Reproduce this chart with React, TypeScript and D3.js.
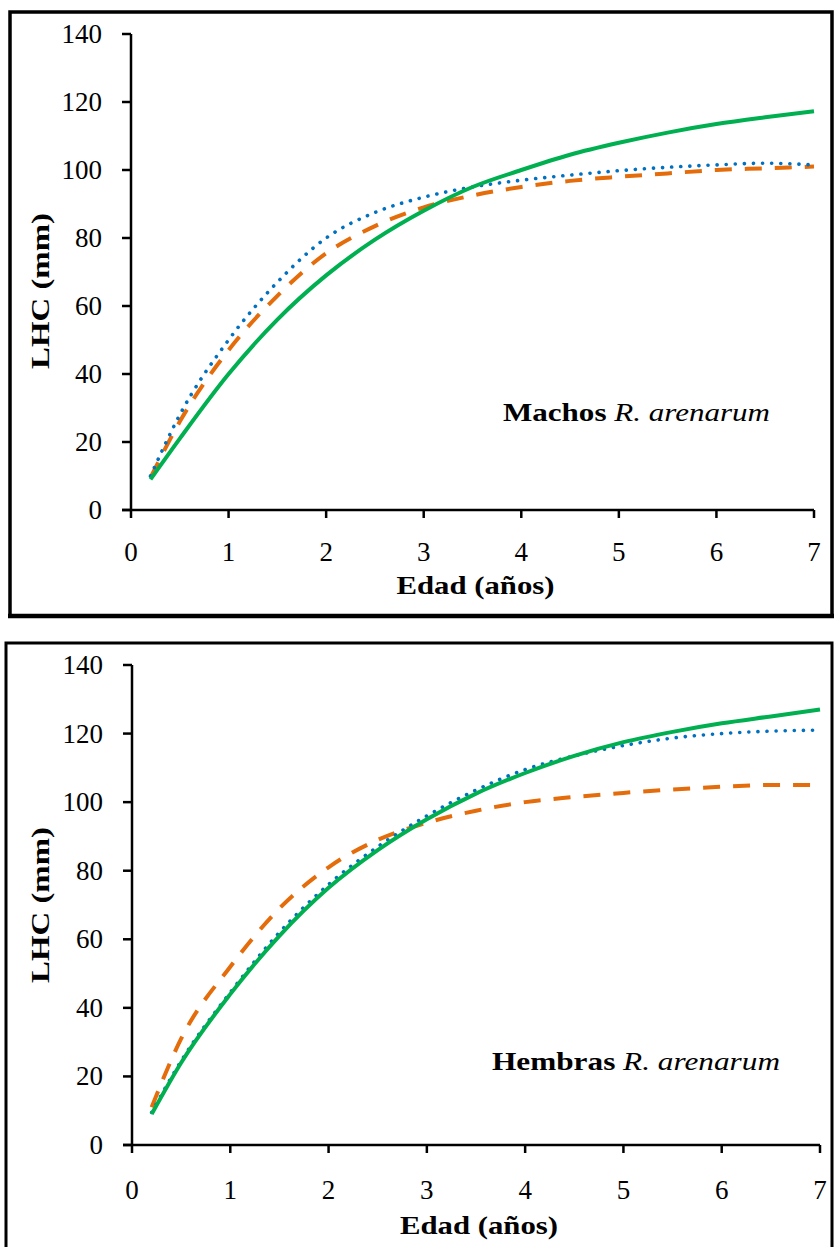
import React from "react";
import * as d3 from "d3";

const ages = [0.2, 0.5, 1, 1.5, 2, 2.5, 3, 3.5, 4, 4.5, 5, 5.5, 6, 6.5, 7];

const machosGreen = [9, 21, 40, 56, 69, 79.5, 88, 95, 100, 104.5, 108, 111, 113.5, 115.5, 117.3];
const machosBlue = [10, 28, 50, 67, 80, 87.5, 92, 95, 97, 98.5, 99.8, 100.8, 101.5, 102, 101.5];
const machosOrange = [9.5, 26, 47, 63, 75.5, 83.5, 89, 92.5, 95, 96.8, 98, 99, 100, 100.5, 101];

const hembrasGreen = [9, 24, 44, 61, 75, 86, 95, 102.5, 108.5, 113.5, 117.5, 120.5, 123, 125, 127];
const hembrasBlue = [9.5, 24.5, 44.5, 62, 76, 87, 96, 103.5, 109.5, 113.5, 116.5, 118.7, 120, 120.7, 121];
const hembrasOrange = [11, 31, 52, 69, 81, 89, 94, 97.5, 100, 101.5, 102.7, 103.7, 104.5, 105, 105];

const xTicks = [0, 1, 2, 3, 4, 5, 6, 7];
const yTicks = [0, 20, 40, 60, 80, 100, 120, 140];

const GREEN = "#00B050";
const BLUE = "#0070C0";
const ORANGE = "#E46C0A";
const FONT = "Liberation Serif, Times New Roman, Times, serif";

type PanelProps = {
  x0: number; x1: number; y0: number; y1: number;
  green: number[]; blue: number[]; orange: number[];
  bold: string; legendX: number; legendY: number; legendW: number;
  xLabelY: number; xTitleY: number; yTitleY: number;
};

function Panel(p: PanelProps) {
  const x = d3.scaleLinear().domain([0, 7]).range([p.x0, p.x1]);
  const y = d3.scaleLinear().domain([0, 140]).range([p.y0, p.y1]);
  const line = d3
    .line<number>()
    .x((_, i) => x(ages[i]))
    .y((d) => y(d))
    .curve(d3.curveMonotoneX);
  const tf = { fontFamily: FONT };
  return (
    <g>
      <path d={line(p.orange) || ""} fill="none" stroke={ORANGE} strokeWidth={4} strokeDasharray="17 13" />
      <path d={line(p.blue) || ""} fill="none" stroke={BLUE} strokeWidth={3.6} strokeDasharray="0.1 9" strokeLinecap="round" />
      <path d={line(p.green) || ""} fill="none" stroke={GREEN} strokeWidth={4} />
      <line x1={p.x0} x2={p.x0} y1={y(140)} y2={y(0)} stroke="#000" strokeWidth={2.5} />
      <line x1={p.x0 - 9} x2={x(7)} y1={y(0)} y2={y(0)} stroke="#000" strokeWidth={2.5} />
      {yTicks.map((t) => (
        <g key={"y" + t}>
          <line x1={p.x0 - 9} x2={p.x0} y1={y(t)} y2={y(t)} stroke="#000" strokeWidth={2.5} />
          <text x={p.x0 - 29} y={y(t) + 9} textAnchor="end" fontSize={27} style={tf}>{t}</text>
        </g>
      ))}
      {xTicks.map((t) => (
        <g key={"x" + t}>
          <line x1={x(t)} x2={x(t)} y1={y(0)} y2={y(0) + 8} stroke="#000" strokeWidth={2.5} />
          <text x={x(t)} y={p.xLabelY} textAnchor="middle" fontSize={27} style={tf}>{t}</text>
        </g>
      ))}
      <text x={(p.x0 + p.x1) / 2 + 3} y={p.xTitleY} textAnchor="middle" fontSize={25} fontWeight="bold" style={tf} textLength={158} lengthAdjust="spacingAndGlyphs">Edad (años)</text>
      <text transform={`translate(49,${p.yTitleY}) rotate(-90)`} textAnchor="middle" fontSize={25} fontWeight="bold" style={tf} textLength={156} lengthAdjust="spacingAndGlyphs">LHC (mm)</text>
      <text x={p.legendX} y={p.legendY} fontSize={25} style={tf} textLength={p.legendW} lengthAdjust="spacingAndGlyphs">
        <tspan fontWeight="bold">{p.bold}</tspan>
        <tspan fontStyle="italic"> R. arenarum</tspan>
      </text>
    </g>
  );
}

export default function App() {
  return (
    <svg width={834} height={1247} style={{ position: "absolute", left: 0, top: 0, background: "#fff" }}>
      <rect x={0} y={0} width={834} height={1247} fill="#fff" />
      <rect x={10} y={12} width={822} height={604} fill="none" stroke="#000" strokeWidth={3.5} />
      <line x1={8} x2={834} y1={616} y2={616} stroke="#000" strokeWidth={4.5} />
      <rect x={6} y={643} width={826} height={640} fill="none" stroke="#000" strokeWidth={3} />
      <Panel
        x0={131} x1={814} y0={510} y1={34}
        green={machosGreen} blue={machosBlue} orange={machosOrange}
        bold="Machos" legendX={503} legendY={421} legendW={267}
        xLabelY={561} xTitleY={594} yTitleY={291}
      />
      <Panel
        x0={132} x1={820} y0={1145} y1={665}
        green={hembrasGreen} blue={hembrasBlue} orange={hembrasOrange}
        bold="Hembras" legendX={492} legendY={1070} legendW={288}
        xLabelY={1199} xTitleY={1234} yTitleY={905}
      />
    </svg>
  );
}
